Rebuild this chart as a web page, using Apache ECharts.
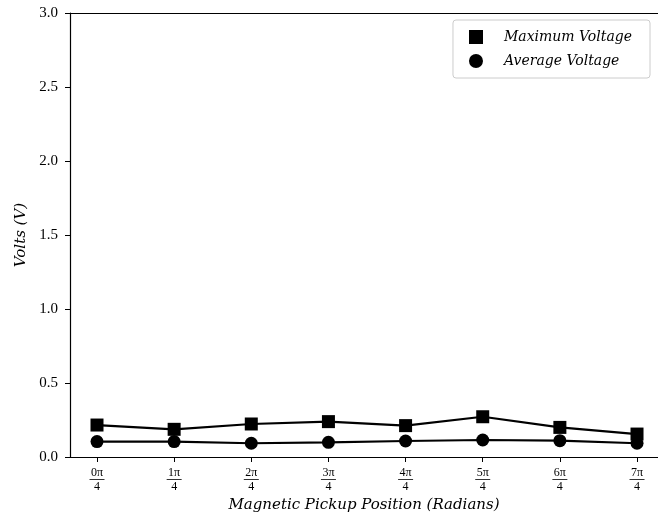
<!DOCTYPE html>
<html>
<head>
<meta charset="utf-8">
<script src="https://cdn.jsdelivr.net/npm/echarts@6/dist/echarts.min.js"></script>
<style>
  html, body { margin: 0; padding: 0; background: #fff; }
  #chart { width: 658px; height: 514px; }
</style>
</head>
<body>
<div id="chart"></div>
<script>
// Pickup positions, in quarter turns of pi
const positions = [0, 1, 2, 3, 4, 5, 6, 7];
const tickNumerators = ['0π', '1π', '2π', '3π', '4π', '5π', '6π', '7π'];
const tickDenominator = '4';
// Measured voltages (V)
const maxVoltage = [0.216, 0.187, 0.223, 0.239, 0.212, 0.272, 0.200, 0.155];
const avgVoltage = [0.104, 0.104, 0.093, 0.099, 0.108, 0.115, 0.110, 0.093];

const serif = '"Liberation Serif", "DejaVu Serif", serif';
const italicSerif = '"DejaVu Serif", "Liberation Serif", serif';

// x extent: 0.35 padding on the left, the plot runs off the right edge of the canvas
const xMin = -0.35;
const xMax = 7.272;

const chart = echarts.init(document.getElementById('chart'), null, { renderer: 'canvas' });

const pair = (xs, ys) => xs.map((x, i) => [x, ys[i]]);

chart.setOption({
  backgroundColor: '#ffffff',
  animation: false,
  grid: { left: 70, right: 0, top: 13, bottom: 57, containLabel: false, outerBoundsMode: 'none' },
  legend: {
    right: 8,
    top: 20,
    orient: 'vertical',
    itemWidth: 14,
    itemHeight: 14,
    itemGap: 10,
    padding: [10, 18, 10, 16],
    borderColor: '#cccccc',
    borderWidth: 1,
    borderRadius: 3,
    backgroundColor: '#ffffff',
    textStyle: { fontFamily: italicSerif, fontStyle: 'italic', fontSize: 14, color: '#000', padding: [0, 0, 0, 16] },
    data: [
      { name: 'Maximum Voltage', icon: 'rect' },
      { name: 'Average Voltage', icon: 'circle' }
    ]
  },
  xAxis: [
    {
      type: 'value',
      min: xMin,
      max: xMax,
      position: 'bottom',
      name: 'Magnetic Pickup Position (Radians)',
      nameLocation: 'middle',
      nameGap: 39,
      nameTextStyle: { fontFamily: italicSerif, fontStyle: 'italic', fontSize: 15, color: '#000' },
      axisLine: { show: true, onZero: false, lineStyle: { color: '#000', width: 1.2 } },
      axisTick: { show: true, length: 5, lineStyle: { color: '#000', width: 1 }, customValues: positions },
      splitLine: { show: false },
      axisLabel: {
        customValues: positions,
        margin: 10,
        formatter: (v) => {
          const i = positions.indexOf(Math.round(v));
          return '{n|' + tickNumerators[i] + '}\n{b| }\n{d|' + tickDenominator + '}';
        },
        rich: {
          n: { fontFamily: serif, fontSize: 12, color: '#000', lineHeight: 11, align: 'center' },
          b: { width: 15, height: 0.8, backgroundColor: '#000', lineHeight: 3, align: 'center' },
          d: { fontFamily: serif, fontSize: 12, color: '#000', lineHeight: 11, align: 'center' }
        }
      }
    },
    {
      type: 'value',
      min: xMin,
      max: xMax,
      position: 'top',
      axisLine: { show: true, onZero: false, lineStyle: { color: '#000', width: 1.2 } },
      axisTick: { show: false },
      axisLabel: { show: false },
      splitLine: { show: false }
    }
  ],
  yAxis: {
    type: 'value',
    min: 0,
    max: 3,
    interval: 0.5,
    name: 'Volts (V)',
    nameLocation: 'middle',
    nameGap: 38,
    nameTextStyle: { fontFamily: italicSerif, fontStyle: 'italic', fontSize: 15, color: '#000' },
    axisLine: { show: true, onZero: false, lineStyle: { color: '#000', width: 1.2 } },
    axisTick: { show: true, length: 5, lineStyle: { color: '#000', width: 1 } },
    splitLine: { show: false },
    axisLabel: {
      fontFamily: serif,
      fontSize: 15,
      color: '#000',
      margin: 12,
      formatter: (v) => v.toFixed(1)
    }
  },
  series: [
    {
      name: 'Maximum Voltage',
      type: 'line',
      data: pair(positions, maxVoltage),
      symbol: 'rect',
      symbolSize: 13,
      itemStyle: { color: '#000' },
      lineStyle: { color: '#000', width: 2.2 },
      z: 3
    },
    {
      name: 'Average Voltage',
      type: 'line',
      data: pair(positions, avgVoltage),
      symbol: 'circle',
      symbolSize: 13,
      itemStyle: { color: '#000' },
      lineStyle: { color: '#000', width: 2.2 },
      z: 3
    }
  ]
});
</script>
</body>
</html>
